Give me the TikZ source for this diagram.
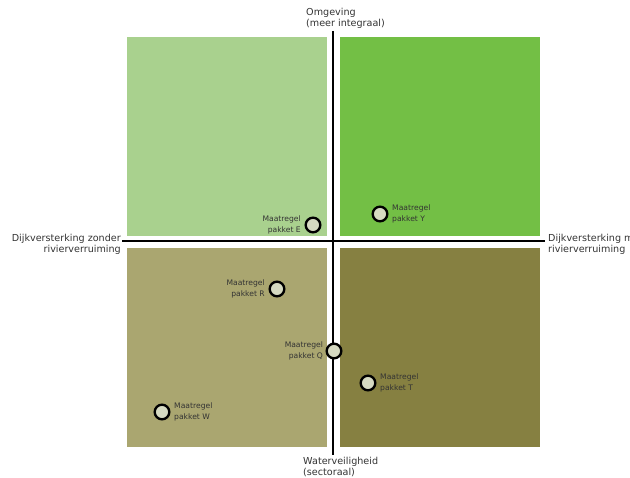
\documentclass[tikz,border=0pt]{standalone}
\usepackage{fontspec}
\setmainfont{DejaVu Sans}
\usetikzlibrary{positioning}
\definecolor{lightleaf}{HTML}{A9D18E}
\definecolor{leaf}{HTML}{73BF45}
\definecolor{khaki}{HTML}{AAA670}
\definecolor{olive}{HTML}{868041}
\definecolor{dotfill}{HTML}{D6DAC2}
\definecolor{ink}{HTML}{333333}
\tikzset{
  quad/.style={draw=none},
  axis/.style={black, line width=2.4pt},
  axlab/.style={text=ink, font=\fontsize{8.2}{9.4}\selectfont, inner sep=0pt},
  dot/.style={circle, draw=black, fill=dotfill, line width=2pt, minimum size=12.5pt, inner sep=0pt},
  plab/.style={text=ink, font=\fontsize{6.5}{9}\selectfont, inner sep=0pt},
}
\begin{document}
\begin{tikzpicture}[x=0.03cm, y=-0.03cm]
  \clip (0,0) rectangle (630,478);
  \fill[white] (0,0) rectangle (630,478);
  % quadrants
  \fill[lightleaf] (127,37) rectangle (327,236);
  \fill[leaf] (340,37) rectangle (540,236);
  \fill[khaki] (127,248) rectangle (327,447);
  \fill[olive] (340,248) rectangle (540,447);

  % axes
  \coordinate (north) at (333,31);
  \coordinate (south) at (333,455);
  \coordinate (west) at (122,241);
  \coordinate (east) at (545,241);
  \draw[axis] (north) -- (south);
  \draw[axis] (west) -- (east);

  \node[axlab, anchor=south west, align=left] (omg) at (306,29) {Omgeving\\(meer integraal)};
  \node[axlab, anchor=north west, align=left] (wvh) at (303,457) {Waterveiligheid\\(sectoraal)};
  \node[axlab, anchor=east, align=right] (zonder) at (121,244) {Dijkversterking zonder\\rivierverruiming};
  \node[axlab, anchor=west, align=left] (met) at (548,244) {Dijkversterking met\\rivierverruiming};

  % maatregel pakketten
  \node[dot] (E) at (313,225) {};
  \node[dot] (Y) at (380,214) {};
  \node[dot] (R) at (277,289) {};
  \node[dot] (Q) at (334,351) {};
  \node[dot] (T) at (368,383) {};
  \node[dot] (W) at (162,412) {};
  \node[plab, align=right, left=3pt of E] (labE) {Maatregel\\pakket E};
  \node[plab, align=left, right=3pt of Y] (labY) {Maatregel\\pakket Y};
  \node[plab, align=right, left=3pt of R] (labR) {Maatregel\\pakket R};
  \node[plab, align=right, left=2pt of Q] (labQ) {Maatregel\\pakket Q};
  \node[plab, align=left, right=3pt of T] (labT) {Maatregel\\pakket T};
  \node[plab, align=left, right=3pt of W] (labW) {Maatregel\\pakket W};
\end{tikzpicture}
\end{document}
